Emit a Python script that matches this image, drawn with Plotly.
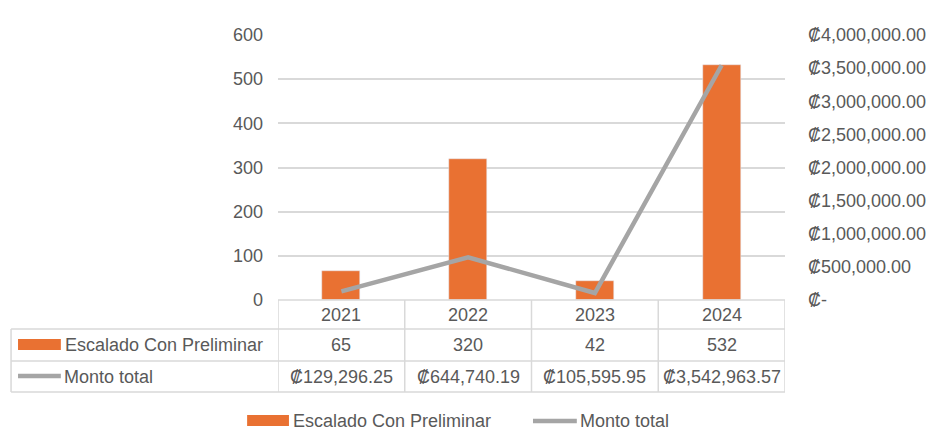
import plotly.graph_objects as go

years = ["2021", "2022", "2023", "2024"]
escalado = [65, 320, 42, 532]
monto = [129296.25, 644740.19, 105595.95, 3542963.57]
left_ticks = [0, 100, 200, 300, 400, 500, 600]
right_ticks = [0, 500000, 1000000, 1500000, 2000000, 2500000, 3000000, 3500000, 4000000]
name_bar = "Escalado Con Preliminar"
name_line = "Monto total"

W, H = 938, 447
L, R, T, B = 278, 787, 35, 300  # plot area in px
FONT = "Liberation Sans"
TXT = "#595959"
GRID = "#d9d9d9"
ORANGE = "#E97132"
GRAY = "#A5A5A5"
FS = 18


def py(p):  # pixel y -> paper y
    return (B - p) / (B - T)


def px(p):  # pixel x -> paper x
    return (p - L) / (R - L)


def fmt_money(v):
    return "\u20a1-" if v == 0 else "\u20a1{:,.2f}".format(v)


fig = go.Figure()
fig.add_trace(go.Bar(x=list(range(len(years))), y=escalado, name=name_bar,
                     marker_color=ORANGE, width=0.3, showlegend=False))
fig.add_trace(go.Scatter(x=list(range(len(years))), y=monto, name=name_line, yaxis="y2",
                         mode="lines", line=dict(color=GRAY, width=4.5), showlegend=False))

shapes = []
line_style = dict(color=GRID, width=1.5)
# vertical column borders
for i in range(len(years) + 1):
    shapes.append(dict(type="line", xref="x", yref="paper", x0=i - 0.5, x1=i - 0.5,
                       y0=py(300), y1=py(392), line=line_style))
# left border
shapes.append(dict(type="line", xref="paper", yref="paper", x0=px(10), x1=px(10),
                   y0=py(329), y1=py(392), line=line_style))
# horizontal borders
shapes.append(dict(type="line", xref="paper", yref="paper", x0=0, x1=1,
                   y0=py(300), y1=py(300), line=line_style))
for yy in (329, 361, 392):
    shapes.append(dict(type="line", xref="paper", yref="paper", x0=px(10), x1=1,
                       y0=py(yy), y1=py(yy), line=line_style))
# legend keys in table
shapes.append(dict(type="rect", xref="paper", yref="paper", x0=px(17), x1=px(60),
                   y0=py(339), y1=py(350), fillcolor=ORANGE, line=dict(width=0)))
shapes.append(dict(type="line", xref="paper", yref="paper", x0=px(17), x1=px(60),
                   y0=py(376), y1=py(376), line=dict(color=GRAY, width=4.5)))
# bottom legend
shapes.append(dict(type="rect", xref="paper", yref="paper", x0=px(247), x1=px(289),
                   y0=py(415), y1=py(426), fillcolor=ORANGE, line=dict(width=0)))
shapes.append(dict(type="line", xref="paper", yref="paper", x0=px(534), x1=px(578),
                   y0=py(421), y1=py(421), line=dict(color=GRAY, width=4.5)))

ann = []
f = dict(family=FONT, size=FS, color=TXT)
common = dict(showarrow=False, yanchor="middle", font=f)
for i, yr in enumerate(years):
    ann.append(dict(xref="x", yref="paper", x=i, y=py(315), text=yr, **common))
    ann.append(dict(xref="x", yref="paper", x=i, y=py(345), text=str(escalado[i]), **common))
    ann.append(dict(xref="x", yref="paper", x=i, y=py(377), text=fmt_money(monto[i]), **common))
ann.append(dict(xref="paper", yref="paper", x=px(62), y=py(345), text=name_bar,
                xanchor="left", **common))
ann.append(dict(xref="paper", yref="paper", x=px(61), y=py(377), text=name_line,
                xanchor="left", **common))
ann.append(dict(xref="paper", yref="paper", x=px(291), y=py(421), text=name_bar,
                xanchor="left", **common))
ann.append(dict(xref="paper", yref="paper", x=px(579), y=py(421), text=name_line,
                xanchor="left", **common))

fig.update_layout(
    width=W, height=H,
    margin=dict(l=L, r=W - R, t=T, b=H - B, pad=0),
    paper_bgcolor="white", plot_bgcolor="white",
    font=f,
    bargap=0,
    xaxis=dict(range=[-0.5, len(years) - 0.5], showticklabels=False, showgrid=False,
               zeroline=False, showline=False, ticks=""),
    yaxis=dict(range=[0, 600], tickvals=left_ticks, showgrid=True, gridcolor=GRID, gridwidth=1.5,
               zeroline=False, showline=False, ticks="", ticklabelstandoff=14,
               tickfont=f),
    yaxis2=dict(range=[0, 4000000], overlaying="y", side="right", tickvals=right_ticks,
                ticktext=[fmt_money(v) for v in right_ticks], showgrid=False, zeroline=False,
                showline=False, ticks="", ticklabelstandoff=22, tickfont=f),
    shapes=shapes, annotations=ann, showlegend=False,
)
fig.write_html("out.html")
